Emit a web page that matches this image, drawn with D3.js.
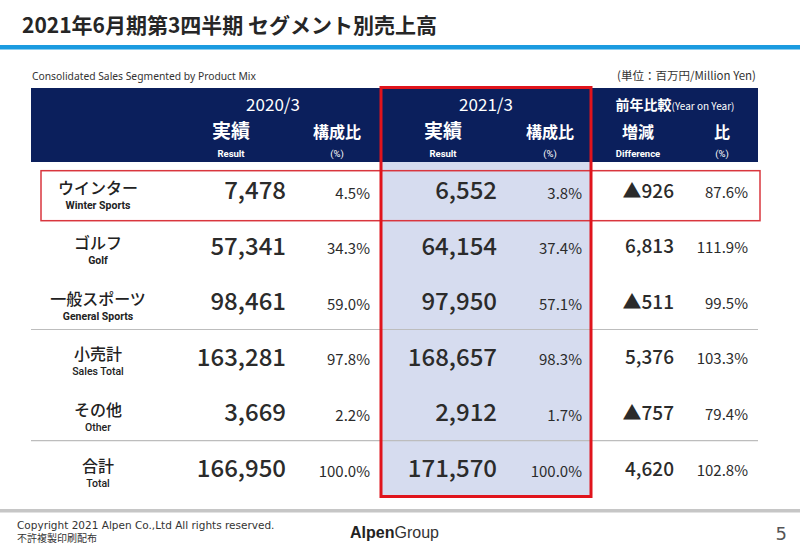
<!DOCTYPE html>
<html><head><meta charset="utf-8">
<script src="https://cdn.jsdelivr.net/npm/d3@7"></script>
<style>
html,body{margin:0;padding:0;background:#fff;}
svg{display:block;}
</style></head>
<body>
<script>
// ---- data ----
const rowsJP = ["ウインター","ゴルフ","一般スポーツ","小売計","その他","合計"];
const rowsEN = ["Winter Sports","Golf","General Sports","Sales Total","Other","Total"];
const result2020 = [7478,57341,98461,163281,3669,166950];
const share2020 = [4.5,34.3,59.0,97.8,2.2,100.0];
const result2021 = [6552,64154,97950,168657,2912,171570];
const share2021 = [3.8,37.4,57.1,98.3,1.7,100.0];
const yoyDiff = [-926,6813,-511,5376,-757,4620];
const yoyRatio = [87.6,111.9,99.5,103.3,79.4,102.8];
const periods = ["2020/3","2021/3"];
const colHeadJP = ["実績","構成比","実績","構成比","増減","比"];
const colHeadEN = ["Result","(%)","Result","(%)","Difference","(%)"];

// ---- layout ----
const W = 800, H = 554;
const JP = "'Noto Sans CJK JP','Noto Sans',sans-serif";
const svg = d3.select("body").append("svg").attr("width", W).attr("height", H);

const cols = ["r20","s20","r21","s21","diff","ratio"];
const xRight = d3.scaleOrdinal().domain(cols).range([286,370,497,582,674,748]);
const xHead = d3.scaleOrdinal().domain(cols).range([231,337,443,550,638,722]);
const y = d3.scaleBand().domain(rowsEN).range([162.7, 496.3]);
const bw = y.bandwidth();
const cy = name => y(name) + bw / 2;

const fmtN = d3.format(",");
const fmtP = v => d3.format(".1f")(v) + "%";
const fmtD = v => v < 0 ? "▲" + fmtN(-v) : fmtN(v);

// title
svg.append("text").attr("x", 22).attr("y", 33)
  .attr("font-family", JP).attr("font-weight", 700).attr("font-size", 21).attr("fill", "#262626")
  .text("2021年6月期第3四半期 セグメント別売上高");
svg.append("rect").attr("x", 0).attr("y", 45).attr("width", W).attr("height", 4.5).attr("fill", "#1b9be0");

svg.append("text").attr("x", 32).attr("y", 80)
  .attr("font-family", "'Noto Sans',sans-serif").attr("font-size", 10.3).attr("fill", "#333")
  .text("Consolidated Sales Segmented by Product Mix");
svg.append("text").attr("x", 756).attr("y", 80).attr("text-anchor", "end")
  .attr("font-family", JP).attr("font-size", 11.5).attr("fill", "#333")
  .text("(単位：百万円/Million Yen)");

// header band
svg.append("rect").attr("x", 31).attr("y", 88).attr("width", 727).attr("height", 74).attr("fill", "#0b1f5c");
// highlight fill for 2021/3
svg.append("rect").attr("x", 381).attr("y", 162).attr("width", 210).attr("height", 335).attr("fill", "#d6dcef");

// header text
const hd = svg.append("g").attr("fill", "#fff").attr("font-family", JP).attr("text-anchor", "middle");
hd.selectAll("text.period").data(periods).join("text").attr("class", "period")
  .attr("x", (d, i) => [273, 486][i]).attr("y", 111)
  .attr("font-size", 17).text(d => d);
const yoyT = hd.append("text").attr("x", 675).attr("y", 110).attr("font-weight", 700).attr("font-size", 14);
yoyT.append("tspan").text("前年比較");
yoyT.append("tspan").attr("font-size", 10).attr("font-weight", 400).text("(Year on Year)");
hd.selectAll("text.hjp").data(cols).join("text").attr("class", "hjp")
  .attr("x", d => xHead(d)).attr("y", 138).attr("font-weight", 700)
  .attr("font-size", (d, i) => colHeadJP[i] === "実績" ? 19 : 16)
  .text((d, i) => colHeadJP[i]);
hd.selectAll("text.hen").data(cols).join("text").attr("class", "hen")
  .attr("x", d => xHead(d)).attr("y", 157).attr("font-family", "Roboto,sans-serif")
  .attr("font-weight", (d, i) => colHeadEN[i] === "(%)" ? 400 : 700).attr("font-size", 9.5)
  .text((d, i) => colHeadEN[i]);

// separators
svg.selectAll("line.sep").data([rowsEN[3], rowsEN[5]]).join("line").attr("class", "sep")
  .attr("x1", 31).attr("x2", 758).attr("y1", d => y(d)).attr("y2", d => y(d))
  .attr("stroke", "#bdbdbd").attr("stroke-width", 1.2);

// highlighted row box
svg.append("rect").attr("x", 41).attr("y", y(rowsEN[0]) + 8).attr("width", 719).attr("height", 50)
  .attr("fill", "none").attr("stroke", "#d9363e").attr("stroke-width", 1.5);

// rows
const rows = svg.selectAll("g.row").data(rowsEN).join("g").attr("class", "row")
  .attr("font-family", JP).attr("fill", "#2b2b2b");
rows.append("text").attr("x", 98).attr("y", d => cy(d) + 3).attr("text-anchor", "middle")
  .attr("font-size", 16).attr("font-weight", 500).attr("fill", "#222")
  .text((d, i) => rowsJP[i]);
rows.append("text").attr("x", 98).attr("y", d => cy(d) + 18).attr("text-anchor", "middle")
  .attr("font-family", "Roboto,sans-serif").attr("font-size", 10.5)
  .attr("font-weight", (d, i) => i < 3 ? 700 : 500).attr("fill", "#222")
  .text(d => d);

function numCol(key, arr, fmt, size, dy, wt) {
  rows.append("text").attr("x", xRight(key)).attr("y", d => cy(d) + dy)
    .attr("text-anchor", "end").attr("font-size", size).attr("font-weight", wt)
    .text((d, i) => fmt(arr[i]));
}
numCol("r20", result2020, fmtN, 24, 8.5, 500);
numCol("s20", share2020, fmtP, 15, 8, 400);
numCol("r21", result2021, fmtN, 24, 8.5, 500);
numCol("s21", share2021, fmtP, 15, 8, 400);
numCol("diff", yoyDiff, fmtD, 19, 7, 500);
numCol("ratio", yoyRatio, fmtP, 15, 7, 400);

// thick red frame around 2021/3
svg.append("rect").attr("x", 381).attr("y", 87.5).attr("width", 210).attr("height", 409)
  .attr("fill", "none").attr("stroke", "#e0141c").attr("stroke-width", 3);

// footer
svg.append("rect").attr("x", 0).attr("y", 509).attr("width", W).attr("height", 3.5).attr("fill", "#c6c6c6");
svg.append("text").attr("x", 17).attr("y", 529)
  .attr("font-family", "'DejaVu Sans',sans-serif").attr("font-size", 10.5).attr("fill", "#333")
  .text("Copyright 2021 Alpen Co.,Ltd All rights reserved.");
svg.append("text").attr("x", 17).attr("y", 542)
  .attr("font-family", JP).attr("font-size", 10).attr("fill", "#333")
  .text("不許複製印刷配布");
const logo = svg.append("text").attr("x", 350).attr("y", 538)
  .attr("font-family", "'Liberation Sans',Arial,sans-serif").attr("font-size", 16).attr("fill", "#222");
logo.append("tspan").attr("font-weight", 700).text("Alpen");
logo.append("tspan").attr("font-weight", 400).attr("fill", "#333").text("Group");
svg.append("text").attr("x", 787).attr("y", 540).attr("text-anchor", "end")
  .attr("font-family", "'DejaVu Sans',sans-serif").attr("font-size", 18).attr("fill", "#555").text("5");
</script>
</body></html>
